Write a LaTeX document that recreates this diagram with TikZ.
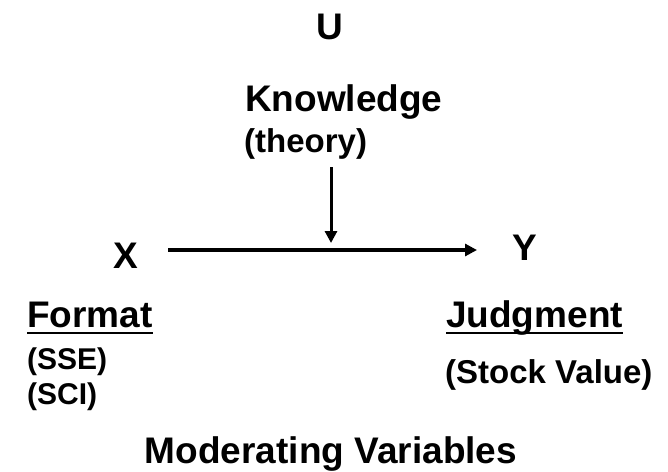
\documentclass[tikz,border=0pt]{standalone}
\usepackage{fontspec}
\setmainfont{Liberation Sans}
\usetikzlibrary{arrows.meta}

\begin{document}
\begin{tikzpicture}[x=1pt, y=-1pt, >={Triangle[length=12pt,width=12pt]},
  big/.style={font=\fontsize{37}{40}\selectfont\bfseries, inner sep=0pt},
  small/.style={font=\fontsize{33}{36}\selectfont\bfseries, inner sep=0pt},
  tiny/.style={font=\fontsize{30}{33}\selectfont\bfseries, inner sep=0pt},
  uline/.style={line width=2.6pt}]
  \useasboundingbox (0,0) rectangle (668,471);
  % moderator on top
  \node[big, anchor=base] (U) at (330,39) {U};
  \node[big, anchor=base west] (know) at (245,111) {Knowledge};
  \node[small, anchor=base west] (theory) at (244,152) {(theory)};
  % X -> Y
  \node[big, anchor=base] (X) at (126,268) {X};
  \node[big, anchor=base] (Y) at (525,260) {Y};
  \coordinate (xout) at (168,250); \coordinate (yin) at (477,250);
  \draw[->, line width=3.6pt] (xout) -- (yin);
  \coordinate (ktop) at (331,167); \coordinate (kbot) at (331,243);
  \draw[->, line width=3pt] (ktop) -- (kbot);
  % labels under X and Y
  \node[big, anchor=base west] (fmt) at (27,327) {Format};
  \draw[uline] ([yshift=-6pt]fmt.base west) -- ([yshift=-6pt]fmt.base east);
  \node[tiny, anchor=base west] (sse) at (27,369) {(SSE)};
  \node[tiny, anchor=base west] (sci) at (27,404) {(SCI)};
  \node[big, anchor=base west] (judg) at (446,327) {Judgment};
  \draw[uline] ([yshift=-6pt]judg.base west) -- ([yshift=-6pt]judg.base east);
  \node[small, anchor=base west] (stock) at (445,383) {(Stock Value)};
  \node[big, anchor=base] (mod) at (331,463) {Moderating Variables};
\end{tikzpicture}
\end{document}
